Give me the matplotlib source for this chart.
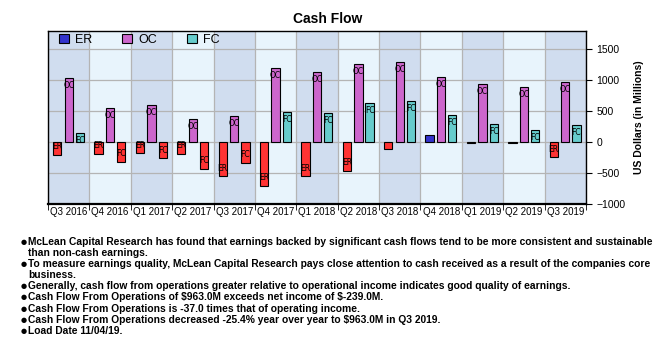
import matplotlib
matplotlib.use('Agg')
import matplotlib.pyplot as plt
import numpy as np

plt.rcParams['font.family'] = ['Liberation Sans', 'DejaVu Sans']

quarters = ['Q3 2016', 'Q4 2016', 'Q1 2017', 'Q2 2017', 'Q3 2017', 'Q4 2017', 'Q1 2018',
            'Q2 2018', 'Q3 2018', 'Q4 2018', 'Q1 2019', 'Q2 2019', 'Q3 2019']
er = [-204, -188, -172, -188, -548, -704, -548, -462, -108, 118, -12, -12, -239]
oc = [1038, 554, 602, 376, 425, 1199, 1134, 1263, 1296, 1054, 941, 892, 963]
fc = [150, -317, -253, -430, -333, 484, 473, 634, 667, 441, 285, 199, 269]
series = [('ER', er, '#3333cc'), ('OC', oc, '#cc66cc'), ('FC', fc, '#66cccc')]
neg_color = '#ff3333'

notes = [
    'McLean Capital Research has found that earnings backed by significant cash flows tend to be more consistent and sustainable\nthan non-cash earnings.',
    'To measure earnings quality, McLean Capital Research pays close attention to cash received as a result of the companies core\nbusiness.',
    'Generally, cash flow from operations greater relative to operational income indicates good quality of earnings.',
    'Cash Flow From Operations of \\$963.0M exceeds net income of \\$-239.0M.',
    'Cash Flow From Operations is -37.0 times that of operating income.',
    'Cash Flow From Operations decreased -25.4% year over year to \\$963.0M in Q3 2019.',
    'Load Date 11/04/19.',
]

fig = plt.figure(figsize=(6.55, 3.61), dpi=100)
ax = fig.add_axes([0.0733, 0.435, 0.8214, 0.479])
n = len(quarters)
x = np.arange(n)

# alternating background bands
for i in range(n):
    ax.axvspan(i - 0.5, i + 0.5, color='#d0ddef' if i % 2 == 0 else '#e8f4fc', zorder=0, lw=0)
for i in range(n + 1):
    ax.axvline(i - 0.5, color='#b4b4b4', lw=0.9, zorder=1)
for yv in [-500, 0, 500, 1000, 1500]:
    ax.axhline(yv, color='#b4b4b4', lw=0.9, zorder=1)

offsets = [-0.28, 0.0, 0.27]
w = 0.2
for (name, vals, col), off in zip(series, offsets):
    vals = np.array(vals)
    colors = [col if v >= 0 else neg_color for v in vals]
    ax.bar(x + off, vals, width=w, color=colors, edgecolor='black', lw=0.8, zorder=3)
    for xi, v in zip(x + off, vals):
        if abs(v) < 140:
            continue
        dy = -5.5 if v > 0 else 5.5
        ax.annotate(name, (xi, v), xytext=(0, dy), textcoords='offset points',
                    ha='center', va='center', fontsize=5.5, family='DejaVu Sans', zorder=4)

ax.set_xlim(-0.5, n - 0.5)
ax.set_ylim(-1000, 1790)
ax.yaxis.tick_right()
ax.yaxis.set_label_position('right')
ax.set_yticks([-1000, -500, 0, 500, 1000, 1500])
ax.tick_params(axis='y', labelsize=7.5, length=4, direction='out')
ax.set_ylabel('US Dollars (in Millions)', fontsize=7.5, fontweight='bold', labelpad=6)
ax.set_xticks(x)
ax.set_xticklabels(quarters, fontsize=7)
ax.tick_params(axis='x', length=0, pad=2)
ax.set_xticks(np.arange(n + 1) - 0.5, minor=True)
ax.tick_params(axis='x', which='minor', length=4)
ax.spines['bottom'].set_linewidth(1.6)
for s in ['top', 'left', 'right']:
    ax.spines[s].set_linewidth(1.0)

# legend
handles = [plt.Rectangle((0, 0), 1, 1, fc=c, ec='black', lw=0.8) for _, _, c in series]
ax.legend(handles, [s[0] for s in series], loc='upper left', ncol=3, frameon=False,
          fontsize=9, handlelength=0.8, handleheight=0.8, columnspacing=2.4,
          handletextpad=0.5, borderaxespad=0.1, bbox_to_anchor=(0.008, 1.02))

fig.text(0.5, 0.948, 'Cash Flow', ha='center', va='center', fontsize=10, fontweight='bold')

yline = 242
for note in notes:
    fig.text(21 / 655, 1 - yline / 361, '\u25cf', fontsize=5, va='center', ha='left',
             family='DejaVu Sans')
    fig.text(28 / 655, 1 - (yline - 5) / 361, note, fontsize=7.4, fontweight='bold',
             va='top', ha='left', linespacing=1.12)
    yline += 11.1 * (note.count('\n') + 1)

fig.savefig('out.png', dpi=100)
